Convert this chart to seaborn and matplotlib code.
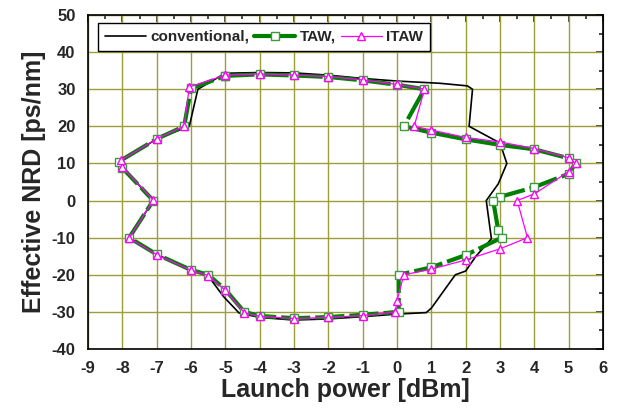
import numpy as np
import pandas as pd
import matplotlib
matplotlib.use('Agg')
import matplotlib.pyplot as plt
import seaborn as sns
from matplotlib.ticker import MultipleLocator

# Data (launch power in dBm, effective NRD in ps/nm)
conv_x = [-5, -4, -3, -2, -1, 0, 1.25, 2.05, 2.2, 2.1, 3.0, 3.2, 2.95, 2.6, 2.75, 2.3, 2.0, 1.7,
          1.0, 0.85, 0, -1, -2, -3, -4, -4.6, -5.05, -5.5, -6, -7, -7.8, -7.1, -8, -8.05, -7,
          -6.05, -5.8, -5]
conv_y = [34.3, 34.5, 34.4, 33.8, 32.9, 32.2, 31.6, 30.9, 30.0, 20.0, 15.5, 10.0, 4.5, 0.0,
          -10.3, -15.0, -19.0, -20.0, -29.0, -30.2, -30.6, -31.3, -31.9, -32.2, -31.5, -30.3,
          -25.9, -20.3, -18.7, -14.5, -10.0, 0.0, 9.0, 10.5, 16.6, 20.0, 30.0, 34.3]

taw_x = [-5, -4, -3, -2, -1, 0, 0.8, 0.2, 1, 2, 3, 4, 5, 5.2, 5, 4, 3, 2.8, 2.95, 3.05, 2, 1,
         0.05, 0.05, -1, -2, -3, -4, -4.45, -5, -5.5, -6, -7, -7.8, -7.1, -8, -8.1, -7, -6.2,
         -6, -5]
taw_y = [33.6, 34.0, 33.7, 33.3, 32.4, 31.2, 30.0, 20.0, 18.3, 16.5, 15.0, 13.8, 11.4, 10.0,
         7.2, 3.6, 1.0, 0.0, -8.0, -10.0, -14.7, -18.0, -20.0, -30.0, -30.8, -31.4, -31.7,
         -31.1, -30.0, -24.0, -20.0, -18.7, -14.5, -10.0, 0.0, 8.8, 10.5, 16.6, 20.0, 30.2, 33.6]

itaw_x = [-5, -4, -3, -2, -1, 0, 0.8, 0.5, 1, 2, 3, 4, 5, 5.2, 5, 4, 3.5, 3.8, 3, 2, 1, 0.2,
          0, -0.05, -1, -2, -3, -4, -4.45, -5, -5.5, -6, -7, -7.8, -7.1, -8, -8.05, -7, -6.2,
          -6.05, -5]
itaw_y = [33.8, 34.1, 33.8, 33.4, 32.5, 31.3, 30.0, 20.0, 19.0, 17.0, 15.8, 14.0, 11.5, 10.0,
          7.8, 1.8, 0.0, -10.0, -13.0, -16.0, -18.5, -20.0, -27.0, -30.0, -31.0, -31.5, -31.8,
          -31.2, -30.2, -24.2, -20.2, -18.8, -14.6, -10.1, 0.1, 9.0, 10.8, 16.6, 20.1, 30.6, 33.8]

sns.set_style('white')
plt.rcParams['font.family'] = ['Liberation Sans', 'DejaVu Sans']
plt.rcParams['font.weight'] = 'bold'
plt.rcParams['axes.unicode_minus'] = False

fig = plt.figure(figsize=(6.18, 4.11), dpi=100)
ax = fig.add_axes([0.1424, 0.1509, 0.8333, 0.8126])

grid_col = '#9e9e38'
ax.set_axisbelow(True)
ax.grid(True, which='major', color=grid_col, lw=1.0)

sns.lineplot(x=conv_x, y=conv_y, sort=False, estimator=None, color='black', lw=1.2,
             label='conventional,', ax=ax)
sns.lineplot(x=taw_x, y=taw_y, sort=False, estimator=None, color='#008000', lw=3,
             dashes=False, marker='s', markersize=5.8, markerfacecolor='white',
             markeredgecolor='#3c9a3c', markeredgewidth=1.0, label='TAW,', ax=ax)
ax.lines[-1].set_linestyle((0, (7, 1.2)))
sns.lineplot(x=itaw_x, y=itaw_y, sort=False, estimator=None, color='#ff00ff', lw=0.9,
             marker='^', markersize=5.8, markerfacecolor='white',
             markeredgecolor='#ff00ff', markeredgewidth=1.0, label='ITAW', ax=ax)

ax.set_xlim(-9, 6)
ax.set_ylim(-40, 50)
ax.xaxis.set_major_locator(MultipleLocator(1))
ax.xaxis.set_minor_locator(MultipleLocator(0.5))
ax.yaxis.set_major_locator(MultipleLocator(10))
ax.yaxis.set_minor_locator(MultipleLocator(5))

for s in ax.spines.values():
    s.set_color('black')
    s.set_linewidth(1.2)

ax.tick_params(which='both', direction='out', top=False, right=False, color='black',
               width=1.2, labelsize=12, pad=4)
ax.tick_params(which='major', length=5)
ax.tick_params(which='minor', length=3)
sec_x = ax.secondary_xaxis('top')
sec_x.set_xticks(np.arange(-9, 7, 1))
sec_x.xaxis.set_minor_locator(MultipleLocator(0.5))
sec_x.tick_params(which='both', direction='in', labeltop=False, width=1.2)
sec_x.tick_params(which='major', length=5)
sec_x.tick_params(which='minor', length=3)
sec_y = ax.secondary_yaxis('right')
sec_y.set_yticks(np.arange(-40, 51, 10))
sec_y.yaxis.set_minor_locator(MultipleLocator(5))
sec_y.tick_params(which='both', direction='in', labelright=False, width=1.2)
sec_y.tick_params(which='major', length=5)
sec_y.tick_params(which='minor', length=3)

for lab in ax.get_xticklabels() + ax.get_yticklabels():
    lab.set_fontweight('bold')

ax.set_xlabel('Launch power [dBm]', fontsize=18, fontweight='bold', labelpad=1)
ax.set_ylabel('Effective NRD [ps/nm]', fontsize=18, fontweight='bold', labelpad=4)

leg = ax.legend(loc='upper left', bbox_to_anchor=(0.019, 0.976), ncol=3, frameon=True,
                fancybox=False, edgecolor='black', framealpha=1, borderaxespad=0,
                handlelength=2.7, handletextpad=0.3, columnspacing=0.3,
                borderpad=0.45, prop={'weight': 'bold', 'size': 11})
leg.get_frame().set_linewidth(1.0)
leg.legend_handles[1].set_linestyle('-')

fig.savefig('out.png', dpi=100)
